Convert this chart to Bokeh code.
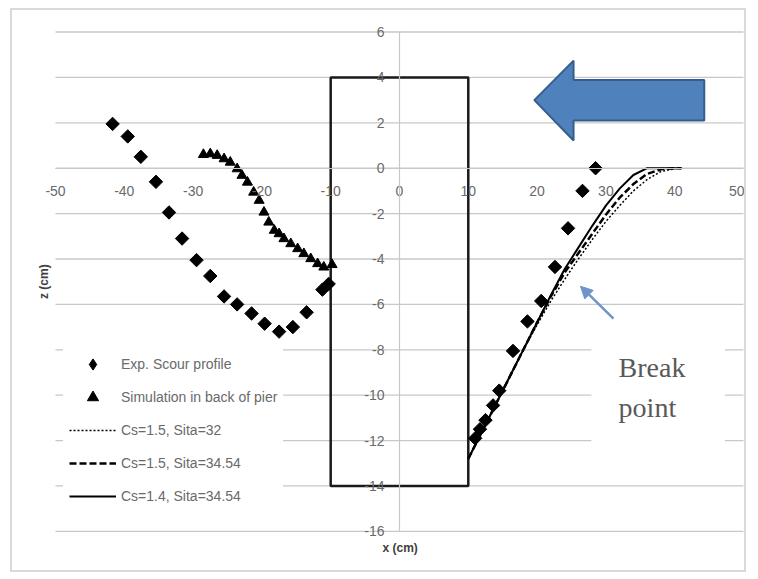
import math
from bokeh.plotting import figure
from bokeh.models import (Range1d, FixedTicker, Legend, LegendItem,
                          Label, Arrow, NormalHead, BoxAnnotation)
from bokeh.embed import file_html
from bokeh.resources import INLINE

# ---------------- data ----------------
exp_x = [-41.7, -39.5, -37.6, -35.4, -33.5, -31.6, -29.5, -27.5, -25.5, -23.6, -21.5,
         -19.6, -17.5, -15.5, -13.5, -11.2, -10.3,
         11.0, 11.7, 12.5, 13.6, 14.5, 16.5, 18.6, 20.6, 22.6, 24.5, 26.6, 28.5]
exp_z = [1.95, 1.4, 0.5, -0.6, -1.95, -3.1, -4.05, -4.75, -5.65, -6.0, -6.4,
         -6.85, -7.2, -7.0, -6.35, -5.35, -5.1,
         -11.9, -11.5, -11.1, -10.45, -9.8, -8.05, -6.75, -5.85, -4.35, -2.65, -1.0, 0.0]

sim_x = [-28.5, -27.5, -26.5, -25.5, -24.6, -23.6, -22.9, -22.1, -21.2, -20.4, -19.7,
         -19.0, -18.2, -17.5, -16.8, -15.8, -14.8, -13.9, -12.9, -11.9, -11.0, -9.8]
sim_z = [0.6, 0.63, 0.56, 0.41, 0.26, -0.03, -0.32, -0.62, -1.06, -1.42, -1.94,
         -2.38, -2.74, -2.89, -3.11, -3.33, -3.55, -3.77, -3.99, -4.21, -4.36, -4.25]

# Cs=1.5, Sita=32 (dotted)
c1_x = [10, 14, 18, 20, 22, 24, 26, 28, 30, 32, 34, 36, 38, 40, 41]
c1_z = [-12.8, -10.4, -8.0, -6.9, -5.85, -4.9, -4.0, -3.15, -2.35, -1.65, -1.0, -0.5, -0.15, -0.02, 0.0]
# Cs=1.5, Sita=34.54 (dashed)
c2_x = [10, 14, 18, 20, 22, 24, 26, 28, 30, 32, 34, 36, 38, 40, 41]
c2_z = [-12.8, -10.4, -8.0, -6.8, -5.65, -4.6, -3.75, -2.9, -2.05, -1.3, -0.7, -0.25, -0.05, 0.0, 0.0]
# Cs=1.4, Sita=34.54 (solid)
c3_x = [10, 12, 14, 16, 18, 20, 22, 24, 26, 28, 30, 32, 34, 36, 38, 40, 41]
c3_z = [-12.8, -11.6, -10.4, -9.2, -8.0, -6.8, -5.6, -4.45, -3.5, -2.55, -1.65, -0.9, -0.3, 0.0, 0.0, 0.0, 0.0]

pier_left, pier_right, pier_bottom, pier_top = [-10], [10], [-14], [4]

flow_arrow_x = [19.6, 25.3, 25.3, 44.3, 44.3, 25.3, 25.3]
flow_arrow_z = [3.0, 4.74, 3.89, 3.89, 2.10, 2.10, 1.22]

x_ticks = [-50, -40, -30, -20, -10, 0, 10, 20, 30, 40, 50]
z_ticks = [-16, -14, -12, -10, -8, -6, -4, -2, 0, 2, 4, 6]

labels = ["Exp. Scour profile", "Simulation in back of pier", "Cs=1.5, Sita=32",
          "Cs=1.5, Sita=34.54", "Cs=1.4, Sita=34.54"]

# ---------------- figure ----------------
# frame covers the whole canvas; data area (-50..50, -16..6) sits inside it
p = figure(width=736, height=564, x_range=Range1d(-56.25, 50.73), y_range=Range1d(-17.9, 6.947),
           output_backend="svg", toolbar_location=None,
           min_border_left=0, min_border_right=0, min_border_top=0, min_border_bottom=0)
p.margin = (8, 0, 0, 10)
p.styles = {"border": "2px solid #d9d9d9"}
p.outline_line_color = None
p.background_fill_color = "white"
p.border_fill_color = "white"
p.xgrid.visible = False
p.ygrid.visible = False

TICK_FONT = "Liberation Sans"
TICK_COLOR = "#6a6a6a"
GRID = "#c8c8c8"

for ax, ticks in ((p.xaxis[0], x_ticks), (p.yaxis[0], z_ticks)):
    ax.fixed_location = 0
    ax.ticker = FixedTicker(ticks=ticks)
    ax.bounds = (ticks[0], ticks[-1])
    ax.major_label_overrides = {t: str(t) for t in ticks}   # plain hyphen minus
    ax.axis_line_color = GRID
    ax.axis_line_width = 1.2
    ax.major_tick_out = 0
    ax.major_tick_in = 0
    ax.minor_tick_line_color = None
    ax.major_label_text_font = TICK_FONT
    ax.major_label_text_font_size = "14px"
    ax.major_label_text_color = TICK_COLOR
p.xaxis[0].major_label_standoff = 18
p.yaxis[0].major_label_standoff = 15

# horizontal gridlines spanning the data area
p.segment(x0=[x_ticks[0]] * len(z_ticks), x1=[x_ticks[-1]] * len(z_ticks),
          y0=z_ticks, y1=z_ticks, line_color=GRID, line_width=1.3, level="underlay")

# axis titles
p.add_layout(Label(x=-51.7, y=-5.0, text="z (cm)", angle=math.pi / 2,
                   text_align="center", text_baseline="middle", text_font=TICK_FONT,
                   text_font_size="12px", text_font_style="bold", text_color="#404040"))
p.add_layout(Label(x=0.1, y=-16.75, text="x (cm)", text_align="center",
                   text_baseline="middle", text_font=TICK_FONT,
                   text_font_size="12px", text_font_style="bold", text_color="#404040"))

# white box behind "Break point"
p.add_layout(BoxAnnotation(left=27.9, right=47.3, top=-7.3, bottom=-13.0,
                           fill_color="white", fill_alpha=1.0, line_alpha=0))

# pier
p.quad(left=pier_left, right=pier_right, bottom=pier_bottom, top=pier_top,
       fill_alpha=0, line_color="#1a1a1a", line_width=2.5)

# flow arrow
p.patch(flow_arrow_x, flow_arrow_z, fill_color="#4f81bd", line_color="#385d8a", line_width=2)

# series
r_c1 = p.line(c1_x, c1_z, line_color="black", line_width=1.5, line_dash="2 2")
r_c2 = p.line(c2_x, c2_z, line_color="black", line_width=2.5, line_dash="7 3")
r_c3 = p.line(c3_x, c3_z, line_color="black", line_width=2)
r_exp = p.scatter(exp_x, exp_z, marker="square", size=9.5, angle=math.pi / 4,
                  fill_color="black", line_color="black")
r_sim = p.scatter(sim_x, sim_z, marker="triangle", size=10,
                  fill_color="black", line_color="black")
# legend proxy for the diamond marker (no visible point)
r_exp_leg = p.scatter([math.nan], [math.nan], marker="diamond", size=16,
                      fill_color="black", line_color="black")

# break point annotation
p.add_layout(Arrow(end=NormalHead(size=12, fill_color="#6f94c8", line_color="#6f94c8"),
                   x_start=31.1, y_start=-6.63, x_end=26.3, y_end=-5.2,
                   line_color="#6f94c8", line_width=2.5))
for txt, yy in (("Break", -8.78), ("point", -10.54)):
    p.add_layout(Label(x=31.85, y=yy, text=txt, text_font="Liberation Serif",
                       text_font_size="28px", text_color="#595959",
                       text_baseline="alphabetic"))

legend = Legend(items=[LegendItem(label=labels[0], renderers=[r_exp_leg]),
                       LegendItem(label=labels[1], renderers=[r_sim]),
                       LegendItem(label=labels[2], renderers=[r_c1]),
                       LegendItem(label=labels[3], renderers=[r_c2]),
                       LegendItem(label=labels[4], renderers=[r_c3])],
                location=(51, 58), glyph_width=47, glyph_height=28, label_height=28,
                spacing=5, padding=6, label_standoff=5, border_line_alpha=0,
                background_fill_color="white", background_fill_alpha=1.0,
                label_text_font=TICK_FONT, label_text_font_size="14px",
                label_text_color="#6a6a6a")
p.add_layout(legend)

open("out.html", "w").write(file_html(p, INLINE))
